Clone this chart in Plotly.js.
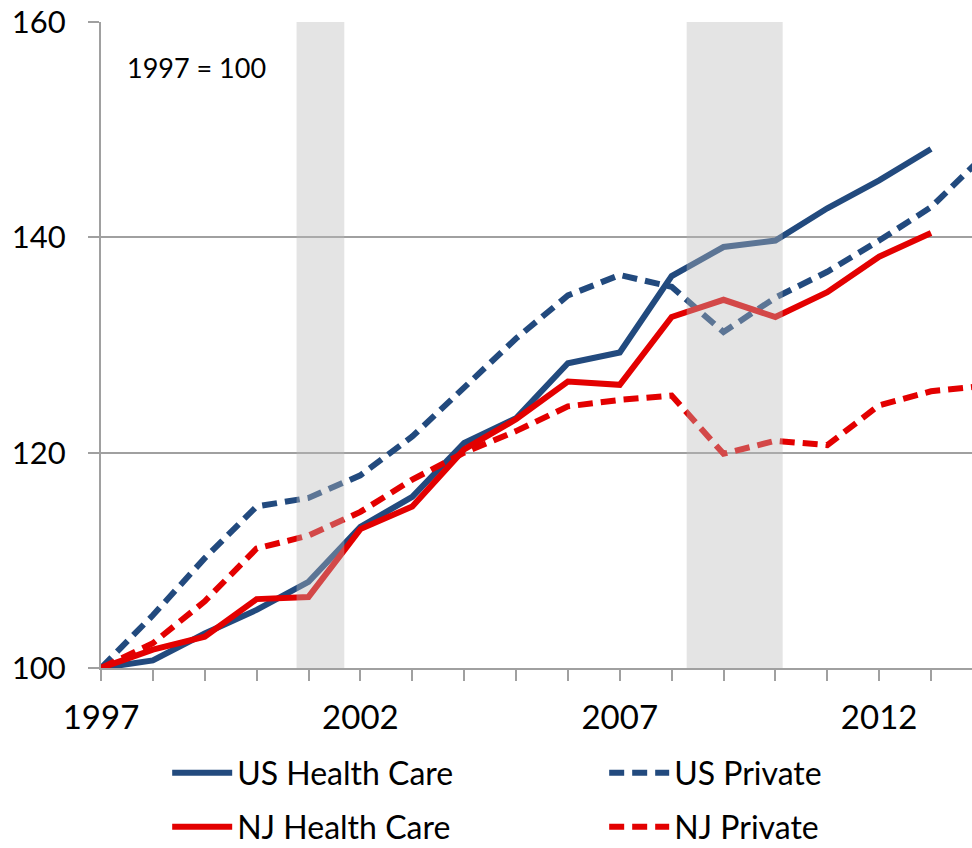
<!DOCTYPE html>
<html>
<head>
<meta charset="utf-8">
<script src="https://cdn.plot.ly/plotly-3.0.1.min.js"></script>
<style>html,body{margin:0;padding:0;background:#fff;}#chart{width:972px;height:848px;}</style>
</head>
<body>
<div id="chart"></div>
<script>
const years = [1997,1998,1999,2000,2001,2002,2003,2004,2005,2006,2007,2008,2009,2010,2011,2012,2013,2014];
const usHealthCare = [100,100.7,103.2,105.4,108.0,113.1,115.9,120.9,123.2,128.3,129.3,136.4,139.1,139.7,142.7,145.3,148.2,null];
const usPrivate    = [100,104.9,110.2,115.0,115.8,117.9,121.5,126.1,130.6,134.6,136.5,135.4,131.2,134.4,136.8,139.7,142.8,147.5];
const njHealthCare = [100,101.7,102.9,106.4,106.6,112.9,115.0,120.3,123.1,126.6,126.3,132.6,134.2,132.6,134.9,138.2,140.4,null];
const njPrivate    = [100,102.3,106.2,111.1,112.3,114.5,117.5,120.0,122.0,124.3,124.9,125.3,119.9,121.1,120.7,124.4,125.7,126.2];
const recessions = [[2000.77, 2001.69], [2008.29, 2010.14]];
const tickYears = years.slice(0, 17);
const tickLabels = tickYears.map(y => ((y - 1997) % 5 === 0 ? String(y) : ''));
const yTicks = [100, 120, 140, 160];

const blue = '#224a7e';
const red = '#e30000';
const traces = [
  {x: years, y: usHealthCare, name: 'US Health Care', mode: 'lines', line: {color: blue, width: 6}, legend: 'legend'},
  {x: years, y: usPrivate, name: 'US Private', mode: 'lines', line: {color: blue, width: 6, dash: '15px,8px'}, legend: 'legend'},
  {x: years, y: njHealthCare, name: 'NJ Health Care', mode: 'lines', line: {color: red, width: 6}, legend: 'legend2'},
  {x: years, y: njPrivate, name: 'NJ Private', mode: 'lines', line: {color: red, width: 6, dash: '15px,8px'}, legend: 'legend2'}
];

const shapes = recessions.map(r => ({
  type: 'rect', xref: 'x', yref: 'paper', x0: r[0], x1: r[1], y0: 0, y1: 1,
  fillcolor: 'rgba(186,186,186,0.39)', line: {width: 0}, layer: 'above'
}));

const font = 'Lato, "Open Sans", sans-serif';
const legendBase = {
  orientation: 'h', xref: 'container', yref: 'container', x: 0.172, xanchor: 'left', yanchor: 'middle',
  font: {size: 32, family: font}, entrywidth: 362, entrywidthmode: 'pixels',
  itemwidth: 60, bgcolor: 'rgba(0,0,0,0)'
};
const layout = {
  width: 972, height: 848,
  margin: {l: 101, r: 0, t: 22, b: 180},
  paper_bgcolor: '#fff', plot_bgcolor: '#fff',
  font: {family: font, color: '#000'},
  showlegend: true,
  xaxis: {
    range: [1997, 2013.79], tickmode: 'array', tickvals: tickYears, ticktext: tickLabels,
    ticks: 'outside', ticklen: 11, tickwidth: 2, tickcolor: '#a0a0a0',
    showline: true, linecolor: '#a0a0a0', linewidth: 2, showgrid: false, zeroline: false,
    tickfont: {size: 33, family: font}, ticklabelstandoff: 8
  },
  yaxis: {
    range: [100, 160], tickmode: 'array', tickvals: yTicks,
    ticks: 'outside', ticklen: 11, tickwidth: 2, tickcolor: '#a0a0a0',
    showline: true, linecolor: '#a0a0a0', linewidth: 2,
    showgrid: true, gridcolor: '#a0a0a0', gridwidth: 2, zeroline: false,
    tickfont: {size: 31, family: font}, ticklabelstandoff: 16
  },
  shapes: shapes,
  annotations: [{
    xref: 'paper', yref: 'paper', x: 0.027, y: 0.93, xanchor: 'left', yanchor: 'middle',
    text: '1997 = 100', showarrow: false, font: {size: 27, family: font}
  }],
  legend: Object.assign({}, legendBase, {y: 1 - 773 / 848}),
  legend2: Object.assign({}, legendBase, {y: 1 - 827 / 848})
};

Plotly.newPlot('chart', traces, layout, {staticPlot: true, displayModeBar: false});
</script>
</body>
</html>
